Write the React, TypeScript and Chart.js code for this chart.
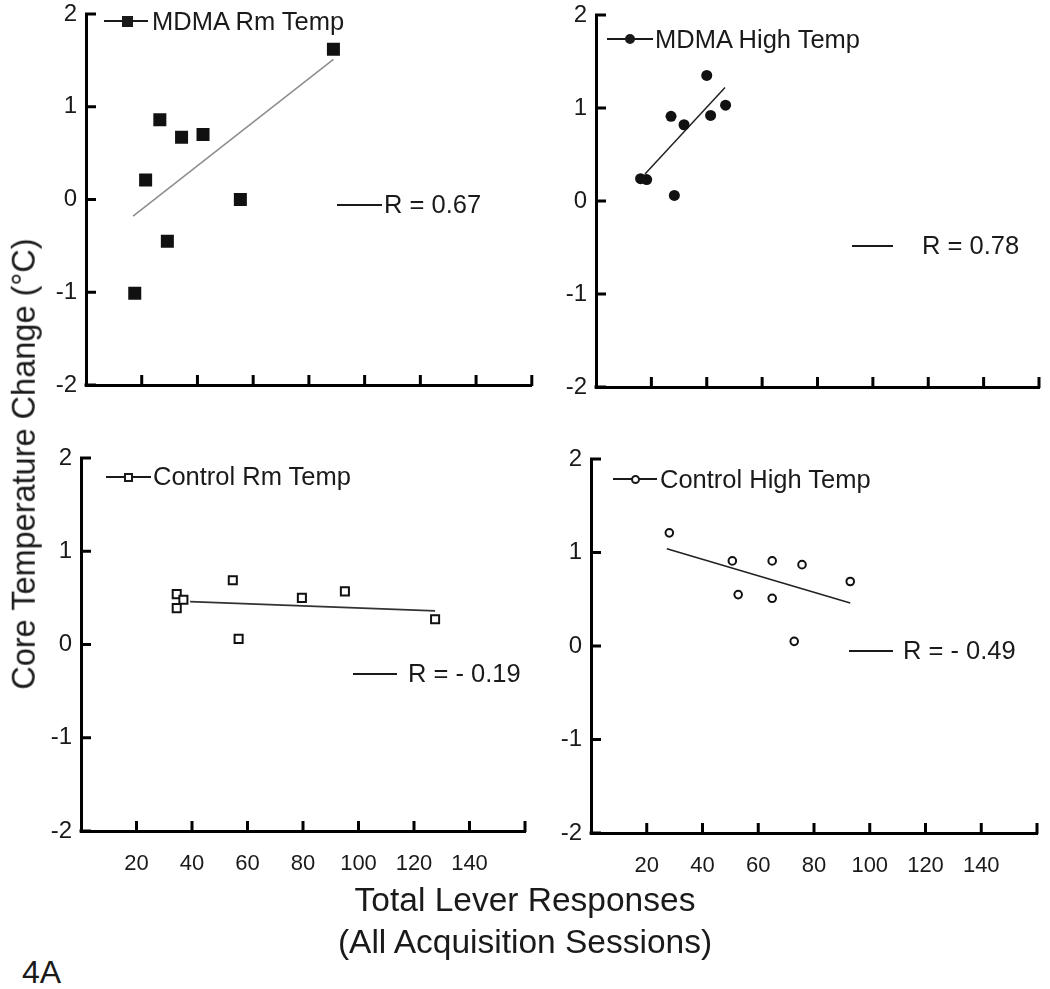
import React, { useEffect, useRef } from "react";
import { Chart, registerables } from "chart.js";

Chart.register(...registerables);

// ---------- data ----------
const xTickLabels = [20, 40, 60, 80, 100, 120, 140];
const yTickLabels = [-2, -1, 0, 1, 2];

const mdmaRmX = [17.5, 21.4, 26.5, 29.2, 34.3, 42.0, 55.4, 88.8];
const mdmaRmY = [-1.01, 0.21, 0.86, -0.45, 0.67, 0.7, 0.0, 1.62];
const mdmaRmFitX = [16.9, 88.8];
const mdmaRmFitY = [-0.18, 1.51];

const mdmaHighX = [16.1, 18.3, 27.1, 28.3, 31.8, 40.0, 41.4, 46.8];
const mdmaHighY = [0.24, 0.23, 0.91, 0.06, 0.82, 1.35, 0.92, 1.03];
const mdmaHighFitX = [17.7, 46.6];
const mdmaHighFitY = [0.29, 1.22];

const ctrlRmX = [34.5, 36.9, 34.5, 54.7, 56.8, 79.6, 95.1, 127.6];
const ctrlRmY = [0.54, 0.48, 0.39, 0.69, 0.06, 0.5, 0.57, 0.27];
const ctrlRmFitX = [39.3, 127.6];
const ctrlRmFitY = [0.46, 0.36];

const ctrlHighX = [28.1, 50.7, 52.8, 65.0, 65.0, 72.9, 75.7, 93.0];
const ctrlHighY = [1.21, 0.91, 0.55, 0.91, 0.51, 0.05, 0.87, 0.69];
const ctrlHighFitX = [27.2, 93.0];
const ctrlHighFitY = [1.04, 0.46];

const legendNames = ["MDMA Rm Temp", "MDMA High Temp", "Control Rm Temp", "Control High Temp"];
const rLabels = ["R = 0.67", "R = 0.78", "R = - 0.19", "R = - 0.49"];

const FONT = '"Liberation Sans", Arial, Helvetica, sans-serif';
const INK = "#1a1a1a";

type Area = { l: number; t: number; r: number; b: number };

type PanelDef = {
  area: Area;
  showX: boolean;
  xs: number[];
  ys: number[];
  fx: number[];
  fy: number[];
  pointStyle: string;
  radius: number;
  fill: string;
  border: string;
  borderWidth: number;
  fitColor: string;
  fitWidth: number;
};

const Y_W = 60;
const PAD_R = 8;

const innerTicks = {
  id: "innerTicks",
  afterDatasetsDraw(chart: any) {
    const { ctx, chartArea } = chart;
    const xs = chart.scales.x;
    const ys = chart.scales.y;
    ctx.save();
    ctx.strokeStyle = "#000";
    ctx.lineWidth = 3;
    ctx.lineCap = "butt";
    xs.ticks.forEach((t: any) => {
      if (t.value <= 0) return;
      const px = xs.getPixelForValue(t.value);
      ctx.beginPath();
      ctx.moveTo(px, chartArea.bottom + 1);
      ctx.lineTo(px, chartArea.bottom - 10);
      ctx.stroke();
    });
    ys.ticks.forEach((t: any) => {
      const py = ys.getPixelForValue(t.value);
      ctx.beginPath();
      ctx.moveTo(chartArea.left - 1, py);
      ctx.lineTo(chartArea.left + 10, py);
      ctx.stroke();
    });
    ctx.fillStyle = "#000";
    ctx.fillRect(chartArea.left - 1.5, chartArea.bottom - 1.5, 3, 3);
    ctx.restore();
  },
};

function Panel({ def }: { def: PanelDef }) {
  const ref = useRef<HTMLCanvasElement | null>(null);
  const a = def.area;
  const xH = def.showX ? 52 : 12;
  const canvasTop = Math.max(0, a.t - 16);
  const padTop = a.t - canvasTop;
  const left = a.l - Y_W;
  const width = a.r - left + PAD_R;
  const height = a.b - canvasTop + xH;

  useEffect(() => {
    if (!ref.current) return;
    const zeroPad = (s: any) => {
      s.paddingLeft = 0;
      s.paddingRight = 0;
      s.paddingTop = 0;
      s.paddingBottom = 0;
    };
    const chart = new Chart(ref.current, {
      type: "scatter",
      data: {
        datasets: [
          {
            type: "scatter",
            data: def.xs.map((x, i) => ({ x, y: def.ys[i] })),
            pointStyle: def.pointStyle as any,
            pointRadius: def.radius,
            backgroundColor: def.fill,
            borderColor: def.border,
            borderWidth: def.borderWidth,
          },
          {
            type: "line",
            data: def.fx.map((x, i) => ({ x, y: def.fy[i] })),
            borderColor: def.fitColor,
            borderWidth: def.fitWidth,
            pointRadius: 0,
            fill: false,
          } as any,
        ],
      },
      options: {
        responsive: false,
        animation: false,
        layout: { padding: { left: 0, top: padTop, right: PAD_R, bottom: 0 } },
        plugins: { legend: { display: false }, tooltip: { enabled: false } },
        scales: {
          x: {
            type: "linear",
            position: "bottom",
            min: 0,
            max: 160,
            ticks: {
              stepSize: 20,
              autoSkip: false,
              maxRotation: 0,
              display: def.showX,
              padding: 20,
              color: INK,
              font: { family: FONT, size: 22 },
              callback: (v: any) => (xTickLabels.includes(Number(v)) ? String(v) : ""),
            },
            grid: { display: false, drawTicks: false },
            border: { display: true, color: "#000", width: 3 },
            afterFit: (s: any) => {
              s.height = xH;
              zeroPad(s);
            },
          },
          y: {
            type: "linear",
            min: -2,
            max: 2,
            ticks: {
              stepSize: 1,
              autoSkip: false,
              padding: 9,
              color: INK,
              font: { family: FONT, size: 24 },
              callback: (v: any) => (yTickLabels.includes(Number(v)) ? String(v) : ""),
            },
            grid: { display: false, drawTicks: false },
            border: { display: true, color: "#000", width: 3 },
            afterFit: (s: any) => {
              s.width = Y_W;
              zeroPad(s);
            },
          },
        },
      },
      plugins: [innerTicks],
    } as any);
    return () => chart.destroy();
  }, []);

  return (
    <canvas
      ref={ref}
      width={width}
      height={height}
      style={{ position: "absolute", left, top: canvasTop, width, height }}
    />
  );
}

function Text({ x, y, size, children, center }: { x: number; y: number; size: number; children: any; center?: boolean }) {
  return (
    <div
      style={{
        position: "absolute",
        left: x,
        top: y,
        fontSize: size,
        lineHeight: 1,
        whiteSpace: "nowrap",
        color: INK,
        fontFamily: FONT,
        transform: center ? "translate(-50%, -50%)" : "translateY(-50%)",
      }}
    >
      {children}
    </div>
  );
}

function HLine({ x1, x2, y, w = 2 }: { x1: number; x2: number; y: number; w?: number }) {
  return <div style={{ position: "absolute", left: x1, top: y - w / 2, width: x2 - x1, height: w, background: INK }} />;
}

function Marker({ x, y, kind }: { x: number; y: number; kind: string }) {
  let s: any = { position: "absolute", boxSizing: "border-box" };
  if (kind === "fsq") s = { ...s, left: x - 5.5, top: y - 5.5, width: 11, height: 11, background: INK };
  if (kind === "fci") s = { ...s, left: x - 5, top: y - 5, width: 10, height: 10, borderRadius: "50%", background: INK };
  if (kind === "hsq") s = { ...s, left: x - 4.5, top: y - 4.5, width: 9, height: 9, border: `2px solid ${INK}`, background: "#fff" };
  if (kind === "hci") s = { ...s, left: x - 4.5, top: y - 4.5, width: 9, height: 9, borderRadius: "50%", border: `2px solid ${INK}`, background: "#fff" };
  return <div style={s} />;
}

const panels: PanelDef[] = [
  {
    area: { l: 86, t: 14, r: 533, b: 385 },
    showX: false,
    xs: mdmaRmX, ys: mdmaRmY, fx: mdmaRmFitX, fy: mdmaRmFitY,
    pointStyle: "rect", radius: 9.2, fill: "#111", border: "#111", borderWidth: 0,
    fitColor: "#8c8c8c", fitWidth: 1.5,
  },
  {
    area: { l: 596, t: 15, r: 1039, b: 387 },
    showX: false,
    xs: mdmaHighX, ys: mdmaHighY, fx: mdmaHighFitX, fy: mdmaHighFitY,
    pointStyle: "circle", radius: 5.5, fill: "#111", border: "#111", borderWidth: 0,
    fitColor: "#222", fitWidth: 1.5,
  },
  {
    area: { l: 81, t: 458, r: 525, b: 831 },
    showX: true,
    xs: ctrlRmX, ys: ctrlRmY, fx: ctrlRmFitX, fy: ctrlRmFitY,
    pointStyle: "rect", radius: 5.7, fill: "#fff", border: "#111", borderWidth: 2,
    fitColor: "#333", fitWidth: 1.8,
  },
  {
    area: { l: 591, t: 459, r: 1037, b: 833 },
    showX: true,
    xs: ctrlHighX, ys: ctrlHighY, fx: ctrlHighFitX, fy: ctrlHighFitY,
    pointStyle: "circle", radius: 3.8, fill: "#fff", border: "#111", borderWidth: 2,
    fitColor: "#222", fitWidth: 1.5,
  },
];

export default function App() {
  useEffect(() => {
    document.body.style.margin = "0";
  }, []);
  return (
    <div style={{ position: "absolute", left: 0, top: 0, width: 1050, height: 989, background: "#fff", overflow: "hidden", fontFamily: FONT }}>
      {panels.map((p, i) => (
        <Panel key={i} def={p} />
      ))}

      {/* legends */}
      <HLine x1={104} x2={148} y={21} />
      <Marker x={127} y={21} kind="fsq" />
      <Text x={152} y={22} size={25.5}>{legendNames[0]}</Text>

      <HLine x1={607} x2={653} y={39} />
      <Marker x={630} y={39} kind="fci" />
      <Text x={655} y={40} size={25.5}>{legendNames[1]}</Text>

      <HLine x1={106} x2={151} y={477} />
      <Marker x={128} y={477} kind="hsq" />
      <Text x={153} y={477} size={25.5}>{legendNames[2]}</Text>

      <HLine x1={613} x2={657} y={479} />
      <Marker x={635} y={479} kind="hci" />
      <Text x={660} y={480} size={25.5}>{legendNames[3]}</Text>

      {/* R annotations */}
      <HLine x1={337} x2={382} y={205} />
      <Text x={384} y={205} size={25.5}>{rLabels[0]}</Text>

      <HLine x1={852} x2={893} y={246} />
      <Text x={922} y={246} size={25.5}>{rLabels[1]}</Text>

      <HLine x1={353} x2={397} y={674} />
      <Text x={408} y={674} size={25.5}>{rLabels[2]}</Text>

      <HLine x1={849} x2={893} y={651} />
      <Text x={903} y={651} size={25.5}>{rLabels[3]}</Text>

      {/* axis titles */}
      <div
        style={{
          position: "absolute",
          left: 24,
          top: 464,
          fontSize: 32.5,
          lineHeight: 1,
          whiteSpace: "nowrap",
          color: INK,
          fontFamily: FONT,
          transform: "translate(-50%, -50%) rotate(-90deg)",
        }}
      >
        Core Temperature Change (°C)
      </div>
      <Text x={525} y={900} size={33.5} center>Total Lever Responses</Text>
      <Text x={525} y={942} size={33.5} center>(All Acquisition Sessions)</Text>
      <Text x={22} y={972} size={32}>4A</Text>
    </div>
  );
}
